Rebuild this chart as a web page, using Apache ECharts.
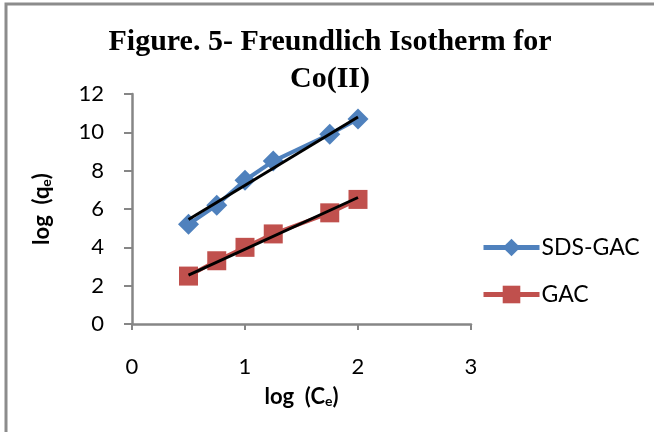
<!DOCTYPE html>
<html><head><meta charset="utf-8">
<script src="https://cdn.jsdelivr.net/npm/echarts@6/dist/echarts.min.js"></script>
<style>html,body{margin:0;padding:0;background:#fff}#c{width:654px;height:432px}</style>
</head><body><div id="c"></div>
<script>
var logCe = [0.5, 0.75, 1.0, 1.25, 1.75, 2.0];
var sdsGac = [5.2, 6.2, 7.5, 8.5, 9.9, 10.7];
var gac = [2.5, 3.3, 4.0, 4.7, 5.8, 6.5];
var trendX = [0.5, 2.0];
var sdsTrend = [5.45, 10.8];
var gacTrend = [2.55, 6.6];
var xTicks = [0, 1, 2, 3];
var yTicks = [0, 2, 4, 6, 8, 10, 12];

function pairs(xs, ys) { return xs.map(function (x, i) { return [x, ys[i]]; }); }

var chart = echarts.init(document.getElementById('c'));
var axisGray = '#868686';
var labelFont = 'Lato';
var nameRich = {
  a: { fontFamily: labelFont, fontWeight: 'bold', fontSize: 22, color: '#000' },
  b: { fontFamily: labelFont, fontWeight: 'bold', fontSize: 14, color: '#000', padding: [8, 0, 0, 0] }
};
chart.setOption({
  animation: false,
  backgroundColor: '#fff',
  graphic: [
    { type: 'rect', shape: { x: 6, y: 4, width: 660, height: 440 }, style: { fill: 'none', stroke: '#8c8c8c', lineWidth: 3 } },
    { type: 'text', x: 330, y: 24, style: { text: 'Figure. 5- Freundlich Isotherm for\nCo(II)', fill: '#000', font: 'bold 30px "Liberation Serif"', align: 'center', verticalAlign: 'top', lineHeight: 37 } }
  ],
  grid: { left: 132, top: 94, width: 339, height: 230 },
  legend: {
    data: ['SDS-GAC', 'GAC'],
    orient: 'vertical', left: 476, top: 231,
    itemWidth: 56, itemHeight: 22, itemGap: 24,
    lineStyle: { width: 5 },
    textStyle: { fontFamily: labelFont, fontSize: 23, color: '#000', padding: [0, 0, 0, -3] }
  },
  xAxis: {
    type: 'value', min: 0, max: 3, interval: 1,
    name: '{a|log  (C}{b|e}{a|)}', nameLocation: 'middle', nameGap: 62,
    nameTextStyle: { rich: nameRich },
    axisLine: { show: true, lineStyle: { color: axisGray, width: 2.5 } },
    axisTick: { show: true, inside: false, length: 6, lineStyle: { color: axisGray, width: 2 } },
    axisLabel: { margin: 32, fontFamily: labelFont, fontSize: 22, color: '#000', formatter: function (v) { return xTicks.indexOf(v) >= 0 ? String(v) : ''; } },
    splitLine: { show: false }
  },
  yAxis: {
    type: 'value', min: 0, max: 12, interval: 2,
    name: '{a|log  (q}{b|e}{a|)}', nameLocation: 'middle', nameGap: 79,
    nameTextStyle: { rich: nameRich },
    axisLine: { show: true, lineStyle: { color: axisGray, width: 2.5 } },
    axisTick: { show: true, inside: false, length: 8, lineStyle: { color: axisGray, width: 2 } },
    axisLabel: { margin: 28, fontFamily: labelFont, fontSize: 22, color: '#000', formatter: function (v) { return yTicks.indexOf(v) >= 0 ? String(v) : ''; } },
    splitLine: { show: false }
  },
  series: [
    { name: 'SDS-GAC', type: 'line', data: pairs(logCe, sdsGac), symbol: 'diamond', symbolSize: 21,
      lineStyle: { color: '#4F81BD', width: 4 }, itemStyle: { color: '#4F81BD' }, z: 2 },
    { name: 'GAC', type: 'line', data: pairs(logCe, gac), symbol: 'rect', symbolSize: 19,
      lineStyle: { color: '#C0504D', width: 4 }, itemStyle: { color: '#C0504D' }, z: 2 },
    { name: 'SDS-GAC trend', type: 'line', data: pairs(trendX, sdsTrend), symbol: 'none',
      lineStyle: { color: '#000', width: 3 }, z: 3 },
    { name: 'GAC trend', type: 'line', data: pairs(trendX, gacTrend), symbol: 'none',
      lineStyle: { color: '#000', width: 3 }, z: 3 }
  ]
});
</script></body></html>
